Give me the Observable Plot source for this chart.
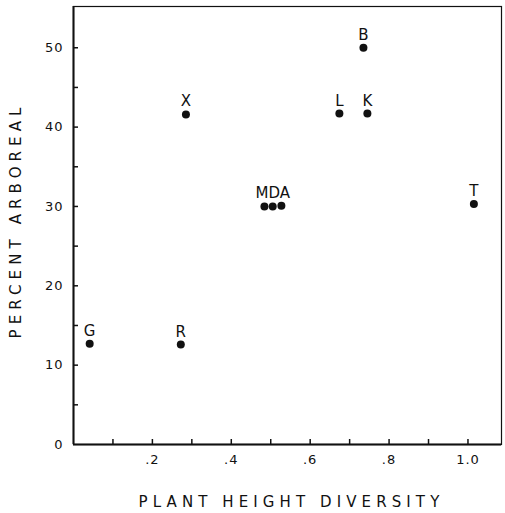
<!DOCTYPE html>
<html><head><meta charset="utf-8">
<script src="https://cdn.jsdelivr.net/npm/d3@7"></script>
<script src="https://cdn.jsdelivr.net/npm/@observablehq/plot@0.6"></script>
<style>body{margin:0;background:#fff;} svg{display:block;}</style>
</head><body><div id="chart"></div>
<script>
const names = ["G","R","X","M","D","A","L","B","K","T"];
const labels = ["G","R","X","","MDA","","L","B","K","T"];
const diversity = [0.041,0.272,0.285,0.484,0.505,0.527,0.674,0.735,0.745,1.015];
const arboreal = [12.7,12.6,41.6,30.0,30.0,30.1,41.7,50.0,41.7,30.3];
const xMinorTicks = [0.1,0.2,0.3,0.4,0.5,0.6,0.7,0.8,0.9,1.0];
const xLabelTicks = [0.2,0.4,0.6,0.8,1.0];
const xTickLabels = [".2",".4",".6",".8","1.0"];
const yMinorTicks = [5,10,15,20,25,30,35,40,45,50];
const yLabelTicks = [0,10,20,30,40,50];
const xTitle = "PLANT HEIGHT DIVERSITY";
const yTitle = "PERCENT ARBOREAL";

const data = names.map((n,i)=>({name:n, label:labels[i], x:diversity[i], y:arboreal[i]}));

const plot = Plot.plot({
  width: 505, height: 513,
  marginLeft: 73, marginRight: 4, marginTop: 6, marginBottom: 69,
  style: {fontFamily: "DejaVu Sans, sans-serif", color: "#111", background: "#fff"},
  x: {domain: [0, 1.085]},
  y: {domain: [0, 55.2]},
  marks: [
    Plot.frame({stroke: "#111", strokeWidth: 1.2}),
    Plot.ruleY([0], {stroke: "#111", strokeWidth: 2}),
    Plot.ruleX([0], {stroke: "#111", strokeWidth: 2}),
    Plot.axisX({ticks: xMinorTicks, tickSize: -5, tickFormat: () => "", label: null, strokeWidth: 1.5}),
    Plot.axisX({ticks: xLabelTicks, tickSize: 0, tickPadding: 10, fontSize: 13,
      tickFormat: d => xTickLabels[xLabelTicks.findIndex(v => Math.abs(v-d)<1e-9)], label: null}),
    Plot.axisY({ticks: yMinorTicks, tickSize: -5, tickFormat: () => "", label: null, strokeWidth: 1.5}),
    Plot.axisY({ticks: yLabelTicks, tickSize: 0, tickPadding: 10, fontSize: 13, label: null}),
    Plot.dot(data, {x: "x", y: "y", r: 4, fill: "#111", stroke: "none"}),
    Plot.text(data, {x: "x", y: "y", text: "label", lineAnchor: "bottom", dy: -8, fontSize: 15, fill: "#111"}),
    Plot.text([xTitle], {frameAnchor: "bottom", textAnchor: "middle", lineAnchor: "middle", dy: 58, dx: 4, fontSize: 15, fill: "#111"}),
    Plot.text([yTitle], {frameAnchor: "left", textAnchor: "middle", lineAnchor: "middle", dx: -57, dy: -5, rotate: -90, fontSize: 15, fill: "#111"})
  ]
});
d3.select(plot).selectAll("text").each(function(){
  const t = d3.select(this).text();
  if (t === xTitle || t === yTitle) d3.select(this).attr("letter-spacing", "5.1px");
  else if (/^[\d.]+$/.test(t)) d3.select(this).attr("letter-spacing", "1px");
});
document.getElementById("chart").appendChild(plot);
</script>
</body></html>
